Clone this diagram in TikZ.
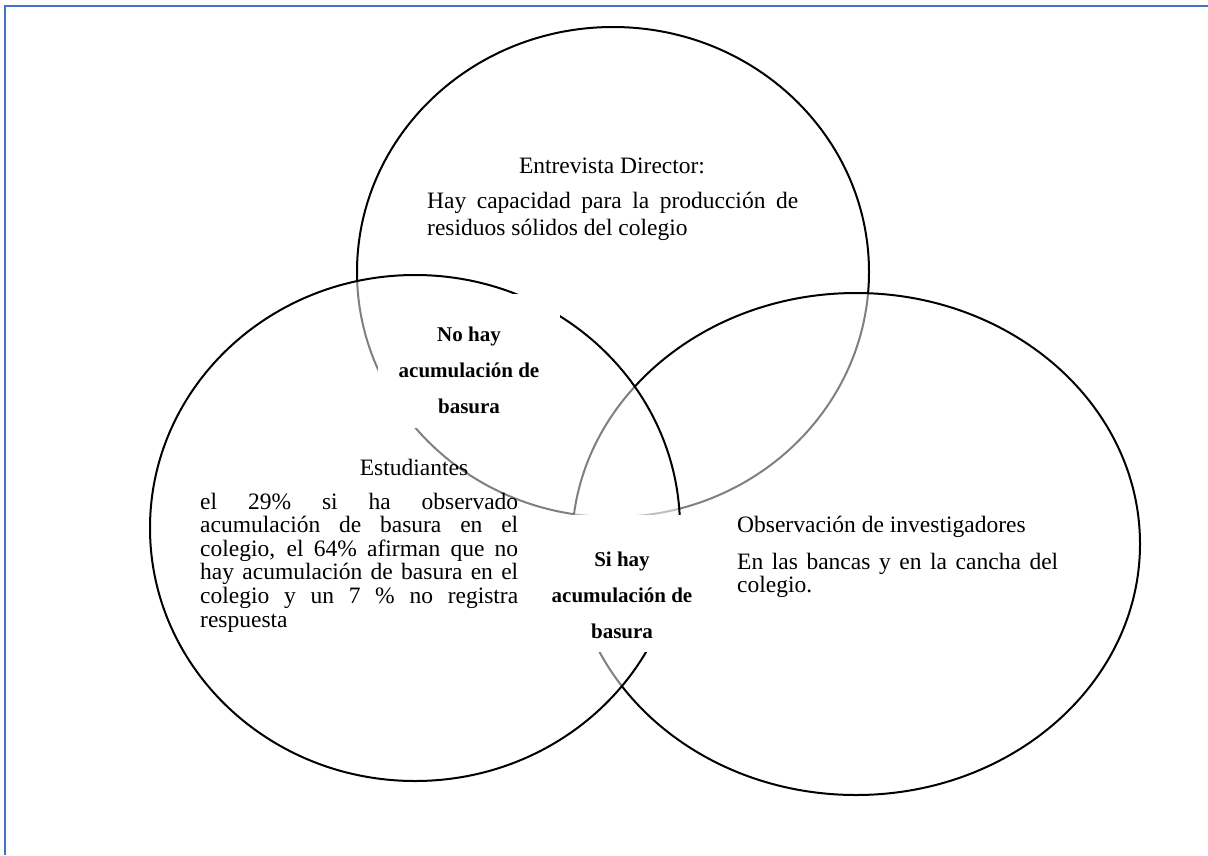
\documentclass[tikz,border=0pt]{standalone}
\usepackage{fontspec}
\setmainfont{Liberation Serif}
\begin{document}
\begin{tikzpicture}[x=1pt,y=-1pt,
  frameline/.style={draw={rgb,255:red,68;green,114;blue,196},line width=2.2pt},
  venn/.style={draw=black,line width=2pt,fill=white,fill opacity=0.5},
  maskbox/.style={fill=white,draw=none,inner sep=0pt},
  bodyfont/.style={font=\fontsize{23.5}{23.6}\selectfont},
  headtext/.style={bodyfont,inner sep=0pt,anchor=base},
  para/.style={bodyfont,inner sep=0pt,anchor=base west,align=justify},
  keytext/.style={font=\fontsize{21}{36}\selectfont\bfseries,inner sep=0pt,align=center}]
\useasboundingbox (0,0) rectangle (1208,855);

% page frame
\draw[frameline] (5,855) -- (5,6) -- (1208,6);

% the three sets: director on the bottom, observers above it, students on top
\draw[venn] (613,272) ellipse [x radius=256pt, y radius=245pt];
\draw[venn] (856,544) ellipse [x radius=284pt, y radius=251pt];
\draw[venn] (415,528) ellipse [x radius=265pt, y radius=253pt];

% white patches behind the overlap labels
\node[maskbox,minimum width=182pt,minimum height=134pt] (nomask) at (469,361) {};
\node[maskbox,minimum width=140pt,minimum height=137pt] (simask) at (622,583.5) {};

% director
\node[headtext] (dirhead) at (612,173) {Entrevista Director:};
\node[para,text width=371pt,font=\fontsize{23.5}{27}\selectfont] (dirbody) at (427,208)
  {Hay capacidad para la producción de\linebreak residuos sólidos del colegio};

% students
\node[headtext] (stuhead) at (414,475) {Estudiantes};
\node[para,text width=318pt] (stubody) at (200,509)
  {el 29\% si ha observado\linebreak acumulación de basura en el\linebreak colegio, el 64\% afirman que no\linebreak hay acumulación de basura en el\linebreak colegio y un 7 \% no registra\linebreak respuesta};

% observers
\node[para] (obshead) at (737,532) {Observación de investigadores};
\node[para,text width=321pt] (obsbody) at (737,569)
  {En las bancas y en la cancha del\linebreak colegio.};

% overlap labels
\node[keytext] (nolabel) at (469,370) {No hay\\acumulación de\\basura};
\node[keytext] (silabel) at (622,595) {Si hay\\acumulación de\\basura};
\end{tikzpicture}
\end{document}
